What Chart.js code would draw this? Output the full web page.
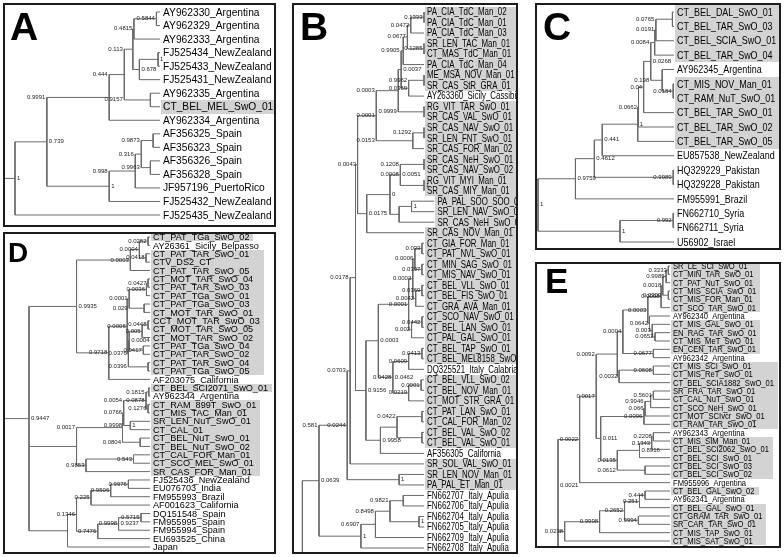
<!DOCTYPE html>
<html><head><meta charset="utf-8">
<script src="https://cdn.jsdelivr.net/npm/chart.js@4.4.1/dist/chart.umd.min.js"></script>
<style>
html,body{margin:0;padding:0;background:#fff;width:784px;height:557px;overflow:hidden}
.panel{position:absolute;border:2px solid #1c1c1c;box-sizing:border-box;background:#fff}
.panel canvas{position:absolute;left:0;top:0}
</style></head><body>
<script>
// ---------------- DATA ----------------
// Trees: node = [depth, "mode:support ...", child, child, ...]; a leaf is the index of its label.
const leavesA = ["AY962330_Argentina","AY962329_Argentina","AY962333_Argentina","FJ525434_NewZealand","FJ525433_NewZealand","FJ525431_NewZealand","AY962335_Argentina","CT_BEL_MEL_SwO_01","AY962334_Argentina","AF356325_Spain","AF356323_Spain","AF356326_Spain","AF356328_Spain","JF957196_PuertoRico","FJ525432_NewZealand","FJ525435_NewZealand"];
const highlightA = [7];
const tipDepthA = 565;
const treeA = [37,"R:1",
  [153,"R:0.739",
    [380,"P:0.9991",
      [435,"P:0.444",
        [466,"P:0.113",
          [470,"L:0.4815",[552,"L:0.5844",0,1],2],
          [490,"R:0.678",[558,"R:1",3,4],5]],
        [530,"P:0.9157",6,7]],
      8],
    [380,"R:1",
      [475,"P:0.998",
        [497,"P:0.316",[540,"P:0.9873",9,10],[530,"P:0.9963",11,12]],
        13],
      14]],
  15];

const leavesB = ["PA_CIA_TdC_Man_02","PA_CIA_TdC_Man_01","PA_CIA_TdC_Man_03","SR_LEN_TAC_Man_01","CT_MAS_TdC_Man_01","PA_CIA_TdC_Man_04","ME_MSA_NOV_Man_01","SR_CAS_StR_GRA_01","AY263360_Sicily_Cassibile","RG_VIT_TAR_SwO_01","SR_CAS_VAL_SwO_01","SR_CAS_NAV_SwO_01","SR_LEN_FNT_SwO_01","SR_CAS_FOR_Man_02","SR_CAS_NeH_SwO_01","SR_CAS_NAV_SwO_02","RG_VIT_MYI_Man_01","SR_CAS_MIY_Man_01","PA_PAL_SOO_SOO_01","SR_LEN_NAV_SwO_01","SR_CAS_NeH_SwO_02","SR_CAS_NOV_Man_01","CT_GIA_FOR_Man_01","CT_PAT_NVL_SwO_01","CT_MIN_SAG_SwO_01","CT_MIS_NAV_SwO_01","CT_BEL_VLL_SwO_01","CT_BEL_FIS_SwO_01","CT_GRA_AVA_Man_01","CT_SCO_NAV_SwO_01","CT_BEL_LAN_SwO_01","CT_PAL_GAL_SwO_01","CT_BEL_TAP_SwO_01","CT_BEL_MEL8158_SwO_01","DQ325521_Italy_Calabria","CT_BEL_VLL_SwO_02","CT_BEL_NOV_Man_01","CT_MOT_STR_GRA_01","CT_PAT_LAN_SwO_01","CT_CAL_FOR_Man_02","CT_BEL_VAL_SwO_02","CT_BEL_VAL_SwO_01","AF356305_California","SR_SOL_VAL_SwO_01","SR_LEN_NOV_Man_01","PA_PAL_ET_Man_01","FN662707_Italy_Apulia","FN662706_Italy_Apulia","FN662704_Italy_Apulia","FN662705_Italy_Apulia","FN662709_Italy_Apulia","FN662708_Italy_Apulia"];
const highlightB = [0,1,2,3,4,5,6,7,9,10,11,12,13,14,15,16,17,18,19,20,21,22,23,24,25,26,27,28,29,30,31,32,33,35,36,37,38,39,40,41,43,44,45];
const tipDepthB = 410;
const longTipsB = {18:435, 19:435, 20:435};
const treeB = [117,"",
  [157,"R:0.0639",
    [225,"P:0.581 L:0.0244",
      [232,"P:0.0703",
        [245,"P:0.0178",
          [250,"L:0.0043",
            [295,"L:0.0001",
              [348,"P:0.0003",
                [355,"R:0.0037",
                  [360,"P:0.9905",[370,"L:0.0677",[378,"L:0.0472",[410,"L:0.1333",0,1],2],[410,"L:0.1285",3,4]],5],
                  [373,"L:0.0369",[410,"P:0.9962",6,7],8]],
                [410,"P:0.9999",9,10]],
              [383,"P:0.0153",[410,"P:0.1292",11,12],13]],
            [272,"R:0.0175",
              [328,"R:0",
                [353,"L:0.0008 R:0.0051",[410,"P:0.1208",14,15],[410,"R:1",16,17]],
                [350,"",[380,"R:1",18,19],20]],
              21]],
          [270,"R:0.9156",
            [300,"R:0.0003",
              [373,"L:0.0001",
                [383,"L:0.0003",
                  [388,"L:0.0006",[405,"L:0.033",22,23],[405,"L:0.0397",24,25]],
                  [390,"L:0.0042",[405,"L:0.0369",26,27],28]],
                [380,"L:0.002",[405,"L:0.0442",29,30],31]],
              [335,"L:0.0428 R:0.0462",
                [373,"L:0.0609",[405,"L:0.0413",32,33],34],
                [373,"L:0.0219",[403,"L:0.0001",35,36],37]]],
            [305,"R:0.9958",[345,"",[405,"P:0.0422",38,39],[405,"",40,41]],42]]],
        43],
      [350,"R:1",44,45]],
    [258,"R:1",
      [293,"P:0.6907",
        [328,"P:0.8498",[360,"P:0.9821",46,47],[398,"R:1",48,49]],
        50],
      51]]];

const leavesC = ["CT_BEL_DAL_SwO_01","CT_BEL_TAR_SwO_03","CT_BEL_SCIA_SwO_01","CT_BEL_TAR_SwO_04","AY962345_Argentina","CT_MIS_NOV_Man_01","CT_RAM_NuT_SwO_01","CT_BEL_TAR_SwO_01","CT_BEL_TAR_SwO_02","CT_BEL_TAR_SwO_05","EU857538_NewZealand","HQ329229_Pakistan","HQ329228_Pakistan","FM955991_Brazil","FN662710_Syria","FN662711_Syria","U56902_Israel"];
const highlightC = [0,1,2,3,5,6,7,8,9];
const tipDepthC = 462;
const treeC = [117,"R:1",
  [212,"R:0.9759",
    [260,"R:0.4612",
      [280,"R:0.441",
        [370,"R:1",
          [372,"L:0.0662",
            [385,"L:0.04",
              [403,"R:0.0268",
                [413,"P:0.0084",[416,"L:0.0191",[458,"P:0.0765",0,1],2],3],
                [432,"P:0.198",4,[460,"L:0.0184",5,6]]],
              7],
            8],
          9],
        10],
      [460,"L:0.9989",11,12]],
    13],
  [325,"R:1",[460,"L:0.992",14,15],16]];

const leavesD = ["CT_PAT_TGa_SwO_02","AY26361_Sicily_Belpasso","CT_PAT_TAR_SwO_01","CTV_DS2_CT","CT_PAT_TAR_SwO_05","CT_MOT_TAR_SwO_04","CT_PAT_TAR_SwO_03","CT_PAT_TGa_SwO_01","CT_PAT_TGa_SwO_03","CT_MOT_TAR_SwO_01","CCT_MOT_TAR_SwO_03","CT_MOT_TAR_SwO_05","CT_MOT_TAR_SwO_02","CT_PAT_TGa_SwO_04","CT_PAT_TAR_SwO_02","CT_PAT_TAR_SwO_04","CT_PAT_TGa_SwO_05","AF203075_California","CT_BEL_SCI2071_SwO_01","AY962344_Argentina","CT_RAM_899T_SwO_01","CT_MIS_TAC_Man_01","SR_LEN_NuT_SwO_01","CT_CAL_01","CT_BEL_NuT_SwO_01","CT_BEL_NuT_SwO_02","CT_CAL_FOR_Man_01","CT_SCO_MEL_SwO_01","SR_CAS_FOR_Man_01","FJ525436_NewZealand","EU076703_India","FM955993_Brazil","AF001623_California","DQ151548_Spain","FM955995_Spain","FM955994_Spain","EU693525_China","Japan"];
const highlightD = [0,2,3,4,5,6,7,8,9,10,11,12,13,14,15,16,18,20,21,22,23,24,25,26,27,28];
const tipDepthD = 455;
const treeD = [147,"R:0.9447",
  [268,"R:0.9935",
    [405,"L:0.0003",[428,"L:0.0004",[450,"L:0.0282",0,1],[445,"L:0.0418",2,3]],4],
    [350,"L:0.9718",
      [397,"L:0.0006",
        [402,"L:0.0001",[446,"L:0.0036",[450,"L:0.0427",5,6],7],[440,"P:0.029",8,9]],
        [400,"L:0.0376",
          [402,"R:0.0004",[435,"L:0.005",[450,"L:0.0448",10,11],12],[438,"L:0.0417",13,14]],
          [450,"P:0.0396",15,16]]],
      17]],
  [268,"",
    [385,"P:0.0017",
      [388,"L:0.0766",[445,"L:0.0878 P:0.0054",[452,"P:0.1815",18,19],[450,"L:0.1276",20,21]],[405,"P:0.9998 R:1",22,23]],
      [430,"P:0.0804",24,25]],
    [292,"L:0.9853",[413,"L:0.543",26,27],28]],
  [245,"",
    [268,"L:0.1346",
      [305,"L:0.225",[355,"L:0.9506",[400,"L:0.9976",29,30],31],32],
      [322,"L:0.7476",[375,"L:0.9998 R:0.9237",[432,"L:0.5715",33,34],35],36]],
    37]];

const leavesE = ["SR_LE_SCI_SwO_01","CT_MIN_TAR_SwO_01","CT_PAT_NuT_SwO_01","CT_MIS_SCIA_SwO_01","CT_MIS_FOR_Man_01","CT_SCO_TAR_SwO_01","AY962340_Argentina","CT_MIS_GAL_SwO_01","EN_RAG_TAR_SwO_01","CT_MIS_MeT_SwO_01","EN_CEN_TAR_SwO_01","AY962342_Argentina","CT_MIS_SCI_SwO_01","CT_MIS_ReT_SwO_01","CT_BEL_SCIA1882_SwO_01","SR_FRA_TAR_SwO_01","CT_CAL_NuT_SwO_01","CT_SCO_NeH_SwO_01","CT_MOT_SCIvcr_SwO_01","CT_RAM_TAR_SwO_01","AY962343_Argentina","CT_MIS_SIM_Man_01","CT_BEL_SCI2062_SwO_01","CT_BEL_SCI_SwO_01","CT_BEL_SCI_SwO_03","CT_BEL_SCI_SwO_02","FM955996_Argentina","CT_BEL_GAL_SwO_02","AY962341_Argentina","CT_BEL_GAL_SwO_01","CT_GRAM_TAR_SwO_01","SR_CAR_TAR_SwO_01","CT_MIS_TAP_SwO_01","CT_MIS_SAT_SwO_01"];
const highlightE = [0,1,2,3,4,5,7,8,9,10,12,13,14,15,16,17,18,19,21,22,23,24,25,27,29,30,31,32,33];
const tipDepthE = 395;
const treeE = [193,"R:0.0021",
  [232,"L:0.0022",
    [262,"L:0.0017",
      [300,"P:0.0092",
        [310,"L:0.0004",
          [355,"L:0.0003",
            [379,"L:0.0008",[382,"L:0.0018",[388,"L:0.9985",[392,"L:0.3333",0,1],2],[392,"P:0.0309",3,4]],5],
            [358,"L:0.0642",6,[363,"L:0.003",7,[368,"L:0.0652",8,9]]]],
          [365,"L:0.0677",10,11]],
        [303,"L:0.0032",[365,"L:0.0608",12,13],14]],
      [270,"R:0.011",
        [348,"L:0.0096",[350,"L:0.066",[360,"P:0.9946",[365,"L:0.5601",15,16],17],18],19],
        [300,"L:0.0135",[340,"R:0.8916",[362,"L:0.1343",[365,"L:0.2208",20,21],22],23],[350,"P:0.0612",24,25]]]],
    26],
  [205,"L:0.0238",
    [268,"L:0.9998",
      [313,"L:0.2652",[340,"L:0.251",[350,"L:0.444",27,28],29],[338,"L:0.9994",30,31]],
      32],
    33]];

// ---------------- LAYOUT / STYLE ----------------
const STYLE = {
  A:{box:[3,3,276,227],   xa:[37,15,565,160],  ya:[12,215],  font:11,  sx:0.93, letter:[10,40,39],  stub:'left'},
  B:{box:[292,3,518,554], xa:[157,319,410,424],ya:[12,548],  font:10.5,sx:0.75, letter:[300,40,39], stub:'down'},
  C:{box:[535,3,781,250], xa:[117,538,462,674],ya:[12,242],  font:11.5,sx:0.78, letter:[543,40,39], stub:'left'},
  D:{box:[3,232,276,554], xa:[147,29,455,150], ya:[237,547], font:9.5, sx:0.96, letter:[8,262,28],  stub:'left'},
  E:{box:[535,262,781,548],xa:[193,558,395,670],ya:[266,541],font:9.5, sx:0.8,  letter:[545,293,35], stub:'down'}
};
const FONT = '"Liberation Sans", Arial, Helvetica, sans-serif';
const LINE = '#6a6a6a', HL = '#d3d3d3';

function layoutTree(tree, tipOf) {
  const segs = [], sup = [];
  function walk(node, parentD) {
    if (typeof node === 'number') return {y: node, d: tipOf(node), lo: node, hi: node};
    const d = node[0], lab = node[1], kids = node.slice(2);
    const ys = kids.map(k => { const r = walk(k, d); segs.push([d, r.y, r.d, r.y]); return r.y; });
    const lo = Math.min(...ys), hi = Math.max(...ys);
    segs.push([d, lo, d, hi]);
    const y = (lo + hi) / 2;
    if (lab) lab.split(' ').forEach(t => { const i = t.indexOf(':'); sup.push({m: t.slice(0, i), s: t.slice(i + 1), d, pd: parentD, y}); });
    return {y, d, lo, hi};
  }
  const root = walk(tree, null);
  return {segs, sup, root};
}

function makePanel(key, leaves, hl, tree, tipOf) {
  const st = STYLE[key];
  const [l, t, r, b] = st.box;
  const div = document.createElement('div'); div.className = 'panel';
  Object.assign(div.style, {left: l + 'px', top: t + 'px', width: (r - l) + 'px', height: (b - t) + 'px'});
  document.body.appendChild(div);
  const W = r - l - 4, H = b - t - 4, ox = l + 2, oy = t + 2;
  const cv = document.createElement('canvas');
  cv.width = W; cv.height = H; cv.style.width = W + 'px'; cv.style.height = H + 'px';
  div.appendChild(cv);
  const [d1, p1, d2, p2] = st.xa;
  const kx = (p2 - p1) / (d2 - d1);
  const xmin = d1 - (p1 - ox) / kx, xmax = xmin + W / kx;
  const n = leaves.length;
  const step = (st.ya[1] - st.ya[0]) / (n - 1);
  const ymin = -(st.ya[0] - oy) / step, ymax = ymin + H / step;

  const T = layoutTree(tree, tipOf);
  if (st.stub === 'left') T.segs.push([xmin - 5, T.root.y, T.root.d, T.root.y]);
  else T.segs.push([T.root.d, T.root.hi, T.root.d, ymax + 10]);
  const pts = [];
  T.segs.forEach(s => { pts.push({x: s[0], y: s[1]}, {x: s[2], y: s[3]}, {x: null, y: null}); });
  const hlSet = new Set(hl);

  const plugin = {
    id: 'tree' + key,
    beforeDatasetsDraw(chart) {
      const ctx = chart.ctx, X = chart.scales.x, Y = chart.scales.y;
      ctx.save();
      ctx.font = st.font + 'px ' + FONT;
      let run = [];
      const flush = () => {
        if (!run.length) return;
        let right = 0;
        run.forEach(i => { const lx = X.getPixelForValue(tipOf(i)) + 3; right = Math.max(right, lx + ctx.measureText(leaves[i]).width * st.sx); });
        ctx.fillStyle = HL;
        run.forEach(i => {
          const lx = X.getPixelForValue(tipOf(i)) + 1;
          const yc = Y.getPixelForValue(i);
          const y0 = Math.round(yc - step / 2), y1 = Math.round(yc + step / 2);
          ctx.fillRect(Math.round(lx), y0, Math.round(right + 4) - Math.round(lx), y1 - y0);
        });
        run = [];
      };
      for (let i = 0; i < n; i++) { if (hlSet.has(i)) run.push(i); else flush(); }
      flush();
      ctx.restore();
    },
    afterDatasetsDraw(chart) {
      const ctx = chart.ctx, X = chart.scales.x, Y = chart.scales.y;
      ctx.save();
      ctx.font = st.font + 'px ' + FONT;
      ctx.fillStyle = '#000';
      ctx.textBaseline = 'middle'; ctx.textAlign = 'left';
      leaves.forEach((lab, i) => {
        const lx = X.getPixelForValue(tipOf(i)) + 3, ly = Y.getPixelForValue(i) + 0.5;
        ctx.save(); ctx.translate(lx, ly); ctx.scale(st.sx, 1); ctx.fillText(lab, 0, 0); ctx.restore();
      });
      ctx.font = '6px ' + FONT;
      ctx.fillStyle = '#222';
      ctx.textBaseline = 'alphabetic';
      T.sup.forEach(s => {
        const y = Y.getPixelForValue(s.y) + 1.5;
        if (s.m === 'R') { ctx.textAlign = 'left'; ctx.fillText(s.s, X.getPixelForValue(s.d) + 2, y); }
        else if (s.m === 'P' && s.pd !== null) { ctx.textAlign = 'right'; ctx.fillText(s.s, X.getPixelForValue(s.pd) - 1.5, y); }
        else { ctx.textAlign = 'right'; ctx.fillText(s.s, X.getPixelForValue(s.d) - 1.5, y); }
      });
      ctx.font = 'bold ' + st.letter[2] + 'px ' + FONT;
      ctx.fillStyle = '#000'; ctx.textAlign = 'left';
      ctx.fillText(key, st.letter[0] - ox, st.letter[1] - oy);
      ctx.restore();
    }
  };

  new Chart(cv, {
    type: 'scatter',
    data: {datasets: [{data: pts, showLine: true, spanGaps: false, borderColor: LINE, borderWidth: 1, pointRadius: 0, pointHoverRadius: 0, tension: 0, fill: false}]},
    options: {
      responsive: false, animation: false, devicePixelRatio: 1, events: [],
      layout: {padding: 0},
      plugins: {legend: {display: false}, tooltip: {enabled: false}},
      scales: {
        x: {type: 'linear', display: false, min: xmin, max: xmax, bounds: 'data'},
        y: {type: 'linear', display: false, min: ymin, max: ymax, reverse: true, bounds: 'data'}
      }
    },
    plugins: [plugin]
  });
}

makePanel('A', leavesA, highlightA, treeA, () => tipDepthA);
makePanel('B', leavesB, highlightB, treeB, i => (longTipsB[i] !== undefined ? longTipsB[i] : tipDepthB));
makePanel('C', leavesC, highlightC, treeC, () => tipDepthC);
makePanel('D', leavesD, highlightD, treeD, () => tipDepthD);
makePanel('E', leavesE, highlightE, treeE, () => tipDepthE);
</script>
</body></html>
